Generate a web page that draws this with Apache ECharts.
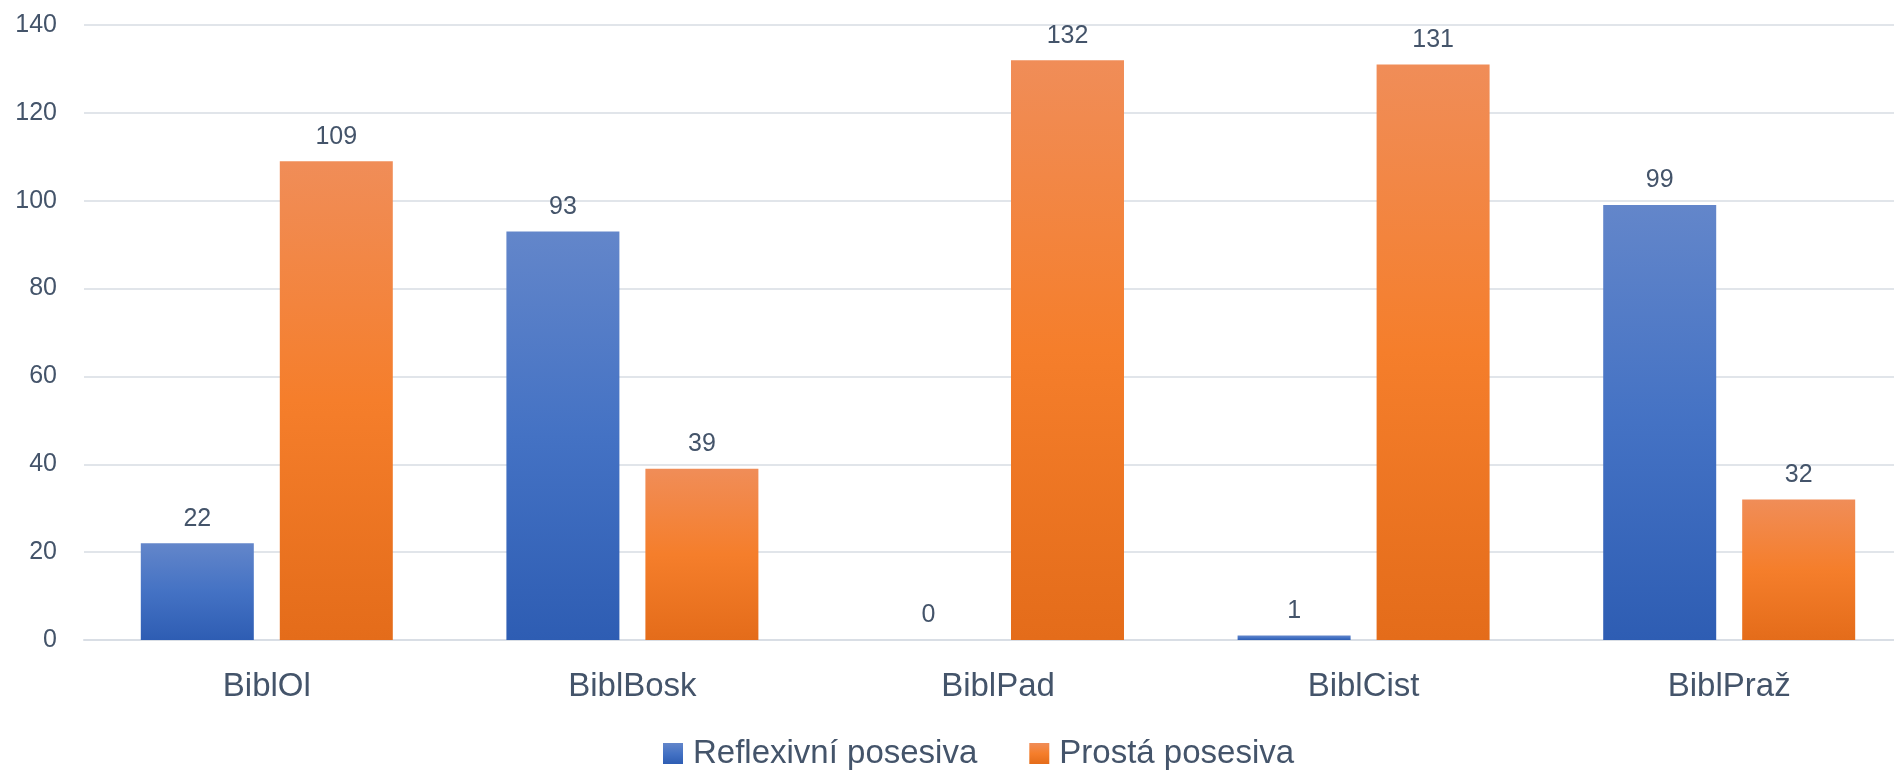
<!DOCTYPE html>
<html>
<head>
<meta charset="utf-8">
<script src="https://cdn.jsdelivr.net/npm/echarts@6/dist/echarts.min.js"></script>
<style>
  html, body { margin: 0; padding: 0; background: #fff; overflow: hidden; }
  /* plot area runs a little past the right edge in the original */
  #chart { width: 1912px; height: 770px; }
</style>
</head>
<body>
<div id="chart"></div>
<script>
  const categories = ['BiblOl', 'BiblBosk', 'BiblPad', 'BiblCist', 'BiblPraž'];
  const reflexivni = [22, 93, 0, 1, 99];
  const prosta = [109, 39, 132, 131, 32];
  const seriesNames = ['Reflexivní posesiva', 'Prostá posesiva'];

  const textColor = '#44546A';
  const font = '"Liberation Sans", Arial, sans-serif';

  // vertical gradient like the Excel bars, lighter at the top
  function grad(top, mid, bottom) {
    return new echarts.graphic.LinearGradient(0, 0, 0, 1, [
      {offset: 0, color: top},
      {offset: 0.5, color: mid},
      {offset: 1, color: bottom}
    ]);
  }
  const blue = grad('#6386CA', '#4472C4', '#2E5DB3');
  const orange = grad('#F08D58', '#F57E2B', '#E46C1A');

  const labelStyle = {
    show: true,
    position: 'top',
    distance: 12,
    color: textColor,
    fontSize: 25,
    fontFamily: font
  };

  const chart = echarts.init(document.getElementById('chart'));
  chart.setOption({
    backgroundColor: '#fff',
    animation: false,
    textStyle: {fontFamily: font},
    grid: {
      left: 84,
      top: 25,
      bottom: 130,
      right: 0,
      containLabel: false
    },
    legend: {
      bottom: -5,
      left: 658,
      itemWidth: 20,
      itemHeight: 21,
      itemGap: 52,
      icon: 'rect',
      textStyle: {color: textColor, fontSize: 33, fontFamily: font, padding: [0, 0, 0, 5]},
      data: seriesNames
    },
    xAxis: {
      type: 'category',
      data: categories,
      axisLine: {lineStyle: {color: '#D9DEE5', width: 2}},
      axisTick: {show: false},
      axisLabel: {color: textColor, fontSize: 33, margin: 30, fontFamily: font}
    },
    yAxis: {
      type: 'value',
      min: 0,
      max: 140,
      interval: 20,
      axisLine: {show: false},
      axisTick: {show: false},
      axisLabel: {color: textColor, fontSize: 25, margin: 27, fontFamily: font},
      splitLine: {lineStyle: {color: '#E1E5EA', width: 2}}
    },
    series: [
      {
        name: seriesNames[0],
        type: 'bar',
        data: reflexivni,
        barWidth: 113,
        barGap: '23%',
        itemStyle: {color: blue},
        label: labelStyle
      },
      {
        name: seriesNames[1],
        type: 'bar',
        data: prosta,
        barWidth: 113,
        barGap: '23%',
        itemStyle: {color: orange},
        label: labelStyle
      }
    ]
  });
</script>
</body>
</html>
